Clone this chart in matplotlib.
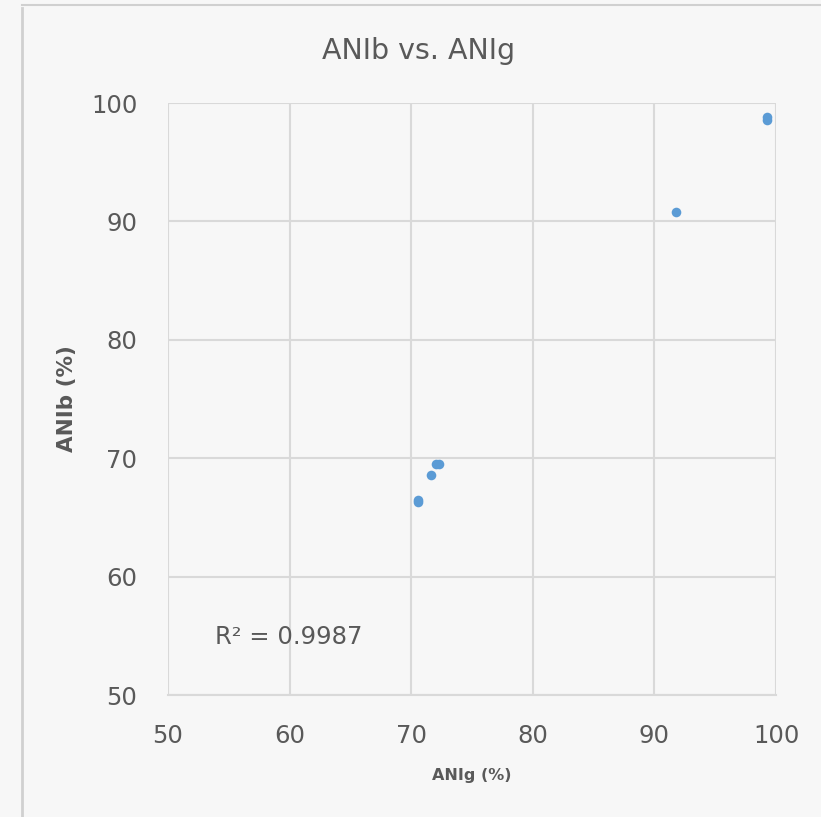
import matplotlib
matplotlib.use("Agg")
import matplotlib.pyplot as plt
from matplotlib.lines import Line2D

# ANIg vs ANIb values (%)
anig = [99.3, 99.3, 91.8, 72.0, 72.3, 71.6, 70.55, 70.55]
anib = [98.8, 98.6, 90.8, 69.5, 69.5, 68.6, 66.5, 66.3]
ticks = [50, 60, 70, 80, 90, 100]
r2_text = "R² = 0.9987"

grey = "#595959"
bg = "#f7f7f7"

fig = plt.figure(figsize=(8.21, 8.17), dpi=100, facecolor=bg)
ax = fig.add_axes([0.2046, 0.1493, 0.7406, 0.7246], facecolor=bg)

ax.scatter(anig, anib, s=48, color="#5b9bd5", zorder=3, linewidths=0)

ax.set_xlim(50, 100)
ax.set_ylim(50, 100)
ax.set_xticks(ticks)
ax.set_yticks(ticks)
ax.grid(True, color="#d9d9d9", linewidth=1.5)
ax.set_axisbelow(True)
for side in ["top", "right", "left"]:
    ax.spines[side].set_visible(False)
ax.spines["bottom"].set_color("#d9d9d9")
ax.spines["bottom"].set_linewidth(1.5)
ax.tick_params(axis="y", length=0, labelsize=17.5, labelcolor=grey, pad=22)
ax.tick_params(axis="x", length=0, labelsize=17.5, labelcolor=grey, pad=21)

fig.text(0.51, 0.937, "ANIb vs. ANIg", fontsize=20.5, color=grey, ha="center", va="center")
ax.set_xlabel("ANIg (%)", fontsize=11.5, fontweight="bold", color=grey, labelpad=14)
ax.set_ylabel("ANIb (%)", fontsize=15.5, fontweight="bold", color=grey, labelpad=10)

ax.text(53.9, 54.9, r2_text, fontsize=17.5, color=grey, va="center")

# sheet frame edges
fig.add_artist(Line2D([0.027, 0.027], [0, 0.99], transform=fig.transFigure, color="#d0d0d0", lw=2))
fig.add_artist(Line2D([0.027, 1], [0.994, 0.994], transform=fig.transFigure, color="#d0d0d0", lw=1.5))

fig.savefig("out.png", dpi=100, facecolor=bg)
